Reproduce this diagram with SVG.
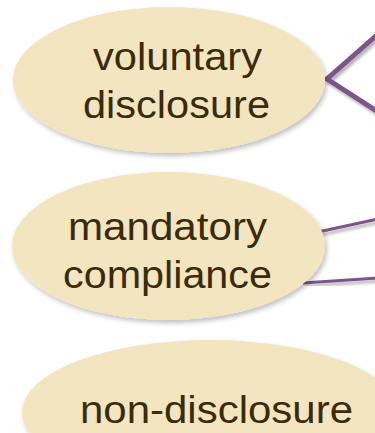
<svg xmlns="http://www.w3.org/2000/svg" width="375" height="433" viewBox="0 0 375 433">
<style>
.node{fill:#f3e5bf;filter:url(#sh)}
.lbl{font-family:"Liberation Sans",Arial,sans-serif;font-size:38px;fill:#3a2b0b;text-anchor:middle}
.con{fill:none;stroke:#7d548b;filter:url(#shl)}
</style>
<defs>
<filter id="sh" x="-10%" y="-10%" width="125%" height="130%">
<feGaussianBlur in="SourceAlpha" stdDeviation="2.5"/>
<feOffset dx="2" dy="3" result="b"/>
<feComponentTransfer><feFuncA type="linear" slope="0.25"/></feComponentTransfer>
<feMerge><feMergeNode/><feMergeNode in="SourceGraphic"/></feMerge>
</filter>
<filter id="shl" x="-20%" y="-40%" width="150%" height="200%">
<feGaussianBlur in="SourceAlpha" stdDeviation="1.5"/>
<feOffset dx="2" dy="3"/>
<feComponentTransfer><feFuncA type="linear" slope="0.3"/></feComponentTransfer>
<feMerge><feMergeNode/><feMergeNode in="SourceGraphic"/></feMerge>
</filter>
</defs>
<g id="connectors">
<polyline class="con" stroke-width="5" points="378,34 327,79 378,112"/>
<line class="con" stroke-width="3" x1="318" y1="232" x2="378" y2="219"/>
<line class="con" stroke-width="3" x1="303" y1="283" x2="378" y2="278"/>
</g>
<g id="voluntary-disclosure">
<ellipse class="node" cx="169" cy="80" rx="156" ry="73"/>
<text class="lbl" x="177.5" y="70" textLength="169" lengthAdjust="spacingAndGlyphs">voluntary</text>
<text class="lbl" x="176.5" y="117.5" textLength="187" lengthAdjust="spacingAndGlyphs">disclosure</text>
</g>
<g id="mandatory-compliance">
<ellipse class="node" cx="168.5" cy="246" rx="156.5" ry="74"/>
<text class="lbl" x="167.5" y="240" textLength="199" lengthAdjust="spacingAndGlyphs">mandatory</text>
<text class="lbl" x="167.5" y="288" textLength="209" lengthAdjust="spacingAndGlyphs">compliance</text>
</g>
<g id="non-disclosure">
<ellipse class="node" cx="210" cy="412" rx="188" ry="72"/>
<text class="lbl" x="216.5" y="423" textLength="273" lengthAdjust="spacingAndGlyphs">non-disclosure</text>
</g>
</svg>
